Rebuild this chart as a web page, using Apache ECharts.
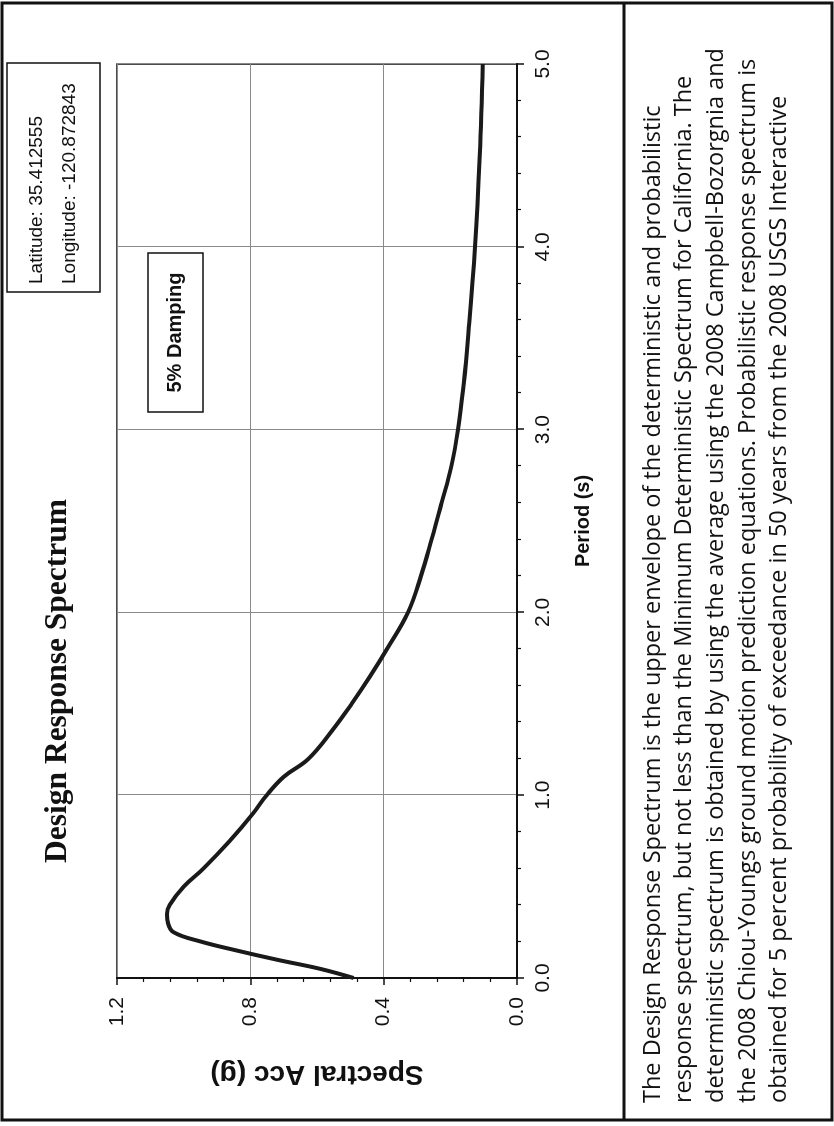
<!DOCTYPE html>
<html>
<head>
<meta charset="utf-8">
<title>Design Response Spectrum</title>
<script src="https://cdn.jsdelivr.net/npm/echarts@6/dist/echarts.min.js"></script>
<style>
  html, body { margin: 0; padding: 0; background: #fff; overflow: hidden; }
  #wrap { width: 834px; height: 1126px; position: relative; }
  /* the page is scanned sideways, so the chart is drawn upright and turned */
  #chart {
    position: absolute; left: 0; top: 0;
    width: 1126px; height: 834px;
    transform-origin: 0 0;
    transform: translateY(1126px) rotate(-90deg);
  }
</style>
</head>
<body>
<div id="wrap"><div id="chart"></div></div>
<script>
// period (s) and spectral acceleration (g)
var periods = [0, 0.05, 0.1, 0.15, 0.2, 0.25, 0.3, 0.35, 0.4, 0.5, 0.6, 0.75, 0.9, 1.0, 1.1, 1.2, 1.35, 1.5, 1.65, 1.8, 2.0, 2.2, 2.4, 2.6, 2.8, 3.0, 3.25, 3.5, 4.0, 4.5, 5.0];
var spectralAcc = [0.49, 0.59, 0.72, 0.84, 0.95, 1.03, 1.047, 1.05, 1.042, 1.0, 0.94, 0.862, 0.792, 0.751, 0.70, 0.625, 0.556, 0.496, 0.441, 0.39, 0.327, 0.288, 0.256, 0.226, 0.197, 0.177, 0.160, 0.147, 0.126, 0.112, 0.103];
var periodTicks = [0, 1, 2, 3, 4, 5];
var accTicks = [0, 0.4, 0.8, 1.2];

var chartTitle = 'Design Response Spectrum';
var siteLines = ['Latitude: 35.412555', 'Longitude: -120.872843'];
var dampingNote = '5% Damping';
var noteLines = [
  'The Design Response Spectrum is the upper envelope of the deterministic and probabilistic',
  'response spectrum, but not less than the Minimum Deterministic Spectrum for California. The',
  'deterministic spectrum is obtained by using the average using the 2008 Campbell-Bozorgnia and',
  'the 2008 Chiou-Youngs ground motion prediction equations. Probabilistic response spectrum is',
  'obtained for 5 percent probability of exceedance in 50 years from the 2008 USGS Interactive'
];

var sans = "'Liberation Sans', Arial, sans-serif";

function renderChart (id) {
  var chart = echarts.init(document.getElementById(id), null, { renderer: 'canvas' });

  var seriesData = periods.map(function (t, i) { return [t, spectralAcc[i]]; });

  var graphics = [
    // outer frame and divider
    { type: 'rect', shape: { x: 6, y: 2, width: 1117, height: 830 }, style: { fill: 'none', stroke: '#111', lineWidth: 3 }, z: 10 },
    { type: 'line', shape: { x1: 6, y1: 624, x2: 1123, y2: 624 }, style: { stroke: '#111', lineWidth: 3 }, z: 10 },
    // title
    { type: 'text', x: 445, y: 58, style: { text: chartTitle, font: 'bold 31.5px "Liberation Serif", "Times New Roman", serif', fill: '#111', align: 'center', verticalAlign: 'middle' }, z: 10 },
    // site box
    { type: 'rect', shape: { x: 834, y: 7, width: 229, height: 93 }, style: { fill: '#fff', stroke: '#111', lineWidth: 1.5 }, z: 10 },
    // damping box
    { type: 'rect', shape: { x: 714, y: 148, width: 159, height: 55 }, style: { fill: '#fff', stroke: '#111', lineWidth: 1.5 }, z: 10 },
    { type: 'text', x: 793.5, y: 175.5, style: { text: dampingNote, font: 'bold 20px ' + sans, fill: '#111', align: 'center', verticalAlign: 'middle' }, z: 11 }
  ];
  siteLines.forEach(function (s, i) {
    graphics.push({ type: 'text', x: 842, y: 37 + i * 33, style: { text: s, font: '19px ' + sans, fill: '#111', align: 'left', verticalAlign: 'middle' }, z: 11 });
  });
  noteLines.forEach(function (s, i) {
    graphics.push({ type: 'text', x: 23, y: 653 + i * 31.7, style: { text: s, font: '23.5px "Open Sans", sans-serif', fill: '#111', align: 'left', verticalAlign: 'middle' }, z: 11 });
  });

  var option = {
    animation: false,
    backgroundColor: '#fff',
    grid: {
      left: 148,
      right: 64,
      top: 117,
      bottom: 317,
      show: true,
      borderColor: '#111',
      borderWidth: 1.5,
      backgroundColor: 'transparent'
    },
    xAxis: {
      type: 'value',
      min: periodTicks[0],
      max: periodTicks[periodTicks.length - 1],
      interval: 1,
      name: 'Period (s)',
      nameLocation: 'middle',
      nameGap: 56,
      nameTextStyle: { fontFamily: sans, fontWeight: 'bold', fontSize: 20, color: '#111' },
      axisLine: { lineStyle: { color: '#111', width: 2 } },
      axisTick: { length: 7, lineStyle: { color: '#111', width: 1.5 } },
      minorTick: { show: true, splitNumber: 5, length: 4, lineStyle: { color: '#111', width: 1.2 } },
      axisLabel: {
        fontFamily: sans, fontSize: 21, color: '#111', margin: 16,
        formatter: function (v) { return v.toFixed(1); }
      },
      splitLine: { show: true, lineStyle: { color: '#8a8a8a', width: 1 } }
    },
    yAxis: {
      type: 'value',
      min: accTicks[0],
      max: accTicks[accTicks.length - 1],
      interval: 0.4,
      name: 'Spectral Acc (g)',
      nameLocation: 'middle',
      nameGap: 82,
      nameTextStyle: { fontFamily: sans, fontWeight: 'bold', fontSize: 28, color: '#111' },
      axisLine: { show: true, lineStyle: { color: '#111', width: 2 } },
      axisTick: { show: true, length: 7, lineStyle: { color: '#111', width: 1.5 } },
      minorTick: { show: true, splitNumber: 5, length: 4, lineStyle: { color: '#111', width: 1.2 } },
      axisLabel: {
        fontFamily: sans, fontSize: 21, color: '#111', margin: 19,
        formatter: function (v) { return v.toFixed(1); }
      },
      splitLine: { show: true, lineStyle: { color: '#8a8a8a', width: 1 } }
    },
    series: [{
      type: 'line',
      data: seriesData,
      smooth: 0.4,
      showSymbol: false,
      lineStyle: { color: '#1a1a1a', width: 4 },
      z: 5
    }],
    graphic: graphics
  };
  chart.setOption(option, true);
}

renderChart('chart');
</script>
</body>
</html>
